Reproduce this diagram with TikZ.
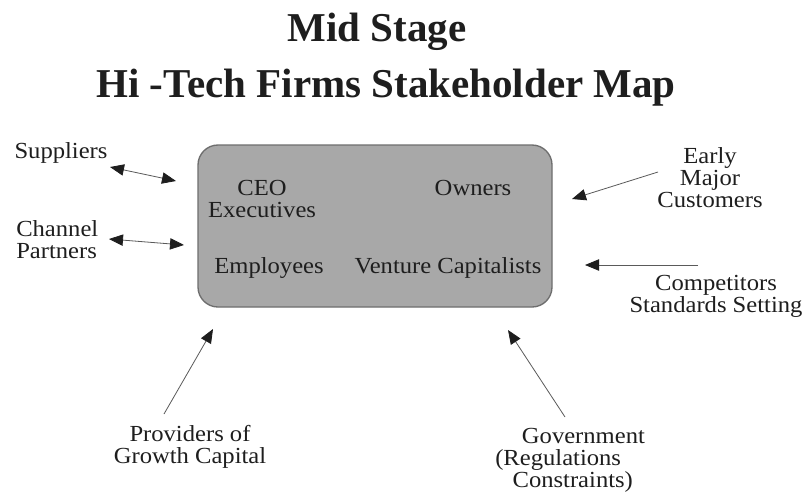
\documentclass[tikz,border=0pt]{standalone}
\usepackage{fontspec}
\setmainfont{Liberation Serif}
\newfontfamily\bodyfont{Liberation Serif}[FakeStretch=1.07]
\usetikzlibrary{arrows.meta}
\definecolor{ink}{RGB}{30,30,30}
\definecolor{boxfill}{RGB}{168,168,168}
\definecolor{boxline}{RGB}{110,110,110}
\definecolor{linegray}{RGB}{90,90,90}
\begin{document}
\begin{tikzpicture}[x=0.75pt,y=-0.75pt,
  lbl/.style={font=\bodyfont\fontsize{17.25}{16.5}\selectfont, text=ink, inner sep=0pt, anchor=base, align=center},
  ttl/.style={font=\bfseries\fontsize{30.75}{36}\selectfont, text=ink, inner sep=0pt, anchor=base},
  conn/.style={draw=linegray, line width=0.6pt, -{Triangle[length=10.5pt,width=8.5pt,color=ink]}},
  biconn/.style={draw=linegray, line width=0.6pt, {Triangle[length=10.5pt,width=8.5pt,color=ink]}-{Triangle[length=10.5pt,width=8.5pt,color=ink]}},
  firmbox/.style={draw=boxline, fill=boxfill, line width=1pt, rounded corners=15pt, minimum width=265.5pt, minimum height=121.5pt, inner sep=0pt}]
\useasboundingbox (0,0) rectangle (805,494);
\fill[white] (0,0) rectangle (805,494);

% titles
\node[ttl] (t1) at (377,41) {Mid Stage};
\node[ttl] (t2) at (386,97) {Hi -Tech Firms Stakeholder Map};

% central firm box
\node[firmbox] (firm) at (375,226) {};
\node[lbl] (ceo) at (262,217) {CEO\\Executives};
\node[lbl] (own) at (473,195) {Owners};
\node[lbl] (emp) at (269,273) {Employees};
\node[lbl] (vc) at (448,273) {Venture Capitalists};

% outer stakeholders
\node[lbl] (sup) at (61,158) {Suppliers};
\node[lbl, anchor=base west, align=left] (chan) at (16,258) {Channel\\Partners};
\node[lbl] (cust) at (710,207) {Early\\Major\\Customers};
\node[lbl] (comp) at (716,312) {Competitors\\Standards Setting};
\node[lbl] (prov) at (190,463) {Providers of\\Growth Capital};
\node[lbl, anchor=base west, align=left] (gov) at (495,487) {\hspace{20pt}Government\\(Regulations\\\hspace{13pt}Constraints)};

% connector end points
\coordinate (supA) at (110,167);
\coordinate (supB) at (176,181);
\coordinate (chA) at (109,239);
\coordinate (chB) at (184,245);
\coordinate (custA) at (658,172);
\coordinate (custB) at (572,199);
\coordinate (compA) at (698,265);
\coordinate (compB) at (585,265);
\coordinate (provA) at (164,414);
\coordinate (provB) at (213,329);
\coordinate (govA) at (565,417);
\coordinate (govB) at (508,330);

\draw[biconn] (supA) -- (supB);
\draw[biconn] (chA) -- (chB);
\draw[conn] (custA) -- (custB);
\draw[conn] (compA) -- (compB);
\draw[conn] (provA) -- (provB);
\draw[conn] (govA) -- (govB);
\end{tikzpicture}
\end{document}
